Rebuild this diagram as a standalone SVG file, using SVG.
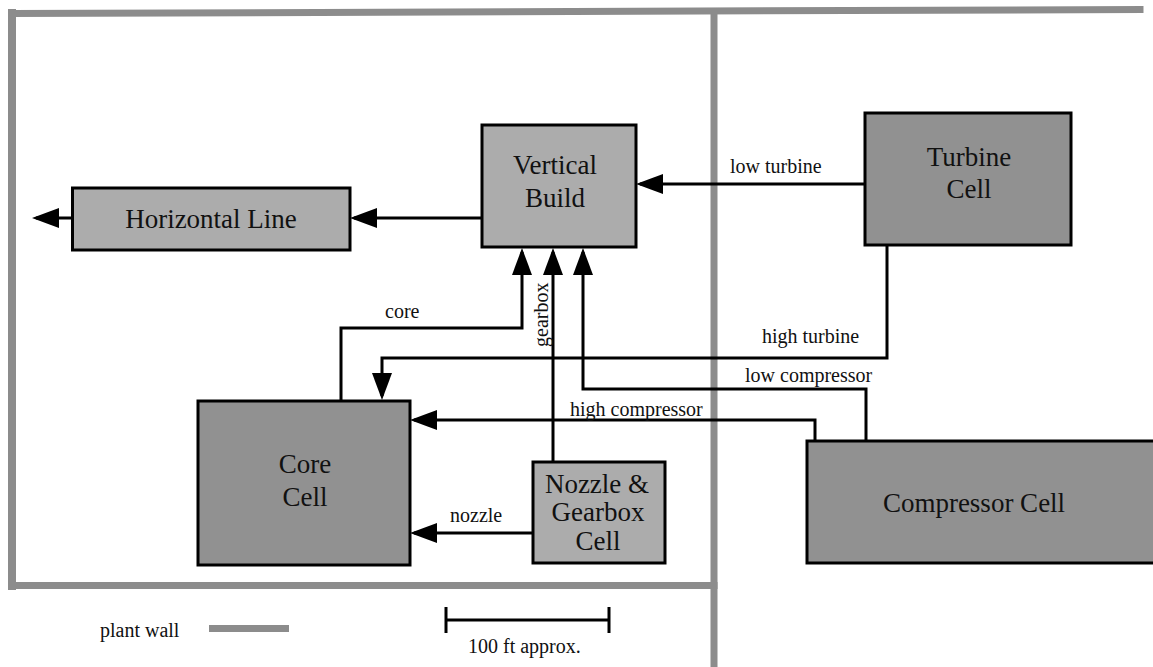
<svg xmlns="http://www.w3.org/2000/svg" width="1153" height="667" viewBox="0 0 1153 667">
<style>
.wall{stroke:#8c8c8c;fill:none;stroke-linecap:square}
.box{stroke:#000;stroke-width:3}
.light{fill:#acacac}
.dark{fill:#919191}
.bt{font-size:27px;text-anchor:middle;fill:#111}
.lbl{font-size:20px;fill:#111}
.conn{stroke:#000;stroke-width:3;fill:none}
</style>
<defs>
<marker id="ah" markerUnits="userSpaceOnUse" markerWidth="29" markerHeight="20" refX="23" refY="10" orient="auto" viewBox="0 0 29 20">
<path d="M0,0 L27,10 L0,20 Z" fill="#000"/>
</marker>
</defs>
<rect width="1153" height="667" fill="#fff"/>
<g id="walls">
<path class="wall" stroke-width="7" d="M12,13.5 L1140,9.5"/>
<line class="wall" stroke-width="8" x1="12" y1="13" x2="12" y2="586"/>
<line class="wall" stroke-width="7" x1="12" y1="585.5" x2="714" y2="585.5"/>
<line class="wall" stroke-width="7" x1="714" y1="12" x2="714" y2="667" stroke-linecap="butt"/>
</g>
<g id="connectors" font-family="Liberation Serif">
<path class="conn" marker-end="url(#ah)" d="M482,218 H354"/>
<path class="conn" marker-end="url(#ah)" d="M72,218 H36"/>
<path class="conn" marker-end="url(#ah)" d="M865,184 H640"/>
<path class="conn" marker-end="url(#ah)" d="M887,245 V358 H382 V396"/>
<path class="conn" marker-end="url(#ah)" d="M341,401 V328 H522 V252"/>
<path class="conn" marker-end="url(#ah)" d="M553,462 V252"/>
<path class="conn" marker-end="url(#ah)" d="M866,441 V389 H583 V252"/>
<path class="conn" marker-end="url(#ah)" d="M815,441 V420 H414"/>
<path class="conn" marker-end="url(#ah)" d="M533,533 H414"/>
<text class="lbl" x="730" y="173" font-family="Liberation Serif">low turbine</text>
<text class="lbl" x="385" y="318" font-family="Liberation Serif">core</text>
<text class="lbl" x="762" y="343" font-family="Liberation Serif">high turbine</text>
<text class="lbl" x="745" y="382" font-family="Liberation Serif">low compressor</text>
<text class="lbl" x="570" y="416" font-family="Liberation Serif">high compressor</text>
<text class="lbl" x="450" y="522" font-family="Liberation Serif">nozzle</text>
<text class="lbl" transform="translate(548,347) rotate(-90)" font-family="Liberation Serif">gearbox</text>
</g>
<g id="horizontal-line">
<rect class="box light" x="72.5" y="188" width="277.5" height="62"/>
<text class="bt" x="211" y="228" font-family="Liberation Serif">Horizontal Line</text>
</g>
<g id="vertical-build">
<rect class="box light" x="482" y="125" width="154" height="122"/>
<text class="bt" x="555" y="174" font-family="Liberation Serif">Vertical</text>
<text class="bt" x="555" y="207" font-family="Liberation Serif">Build</text>
</g>
<g id="turbine-cell">
<rect class="box dark" x="865" y="113" width="206" height="132"/>
<text class="bt" x="969" y="166" font-family="Liberation Serif">Turbine</text>
<text class="bt" x="969" y="198" font-family="Liberation Serif">Cell</text>
</g>
<g id="core-cell">
<rect class="box dark" x="198" y="401" width="212" height="164"/>
<text class="bt" x="305" y="473" font-family="Liberation Serif">Core</text>
<text class="bt" x="305" y="506" font-family="Liberation Serif">Cell</text>
</g>
<g id="nozzle-gearbox-cell">
<rect class="box light" x="533" y="462" width="132" height="101"/>
<text class="bt" x="597" y="493" font-family="Liberation Serif">Nozzle &amp;</text>
<text class="bt" x="598" y="521" font-family="Liberation Serif">Gearbox</text>
<text class="bt" x="598" y="550" font-family="Liberation Serif">Cell</text>
</g>
<g id="compressor-cell">
<rect class="box dark" x="807" y="441" width="350" height="122"/>
<text class="bt" x="974" y="512" font-family="Liberation Serif">Compressor Cell</text>
</g>
<g id="legend">
<text class="lbl" x="100" y="637" font-family="Liberation Serif">plant wall</text>
<rect x="209" y="625" width="80" height="7" fill="#8c8c8c"/>
<path class="conn" d="M446,620 H609 M446,607 V633 M609,607 V633"/>
<text class="lbl" x="468" y="653" font-family="Liberation Serif">100 ft approx.</text>
</g>
</svg>
